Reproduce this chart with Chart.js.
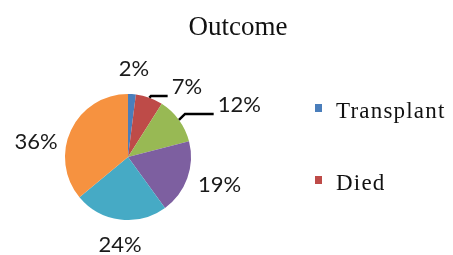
<!DOCTYPE html>
<html>
<head>
<meta charset="utf-8">
<script src="https://cdn.jsdelivr.net/npm/chart.js@4"></script>
<style>
  html, body { margin: 0; padding: 0; background: #fff; }
  #wrap { width: 453px; height: 255px; }
</style>
</head>
<body>
<div id="wrap"><canvas id="outcomeChart" width="453" height="255"></canvas></div>
<script>
const CATEGORIES = ['Transplant', 'Died', 'Recovered', 'Improved', 'Stable', 'Ongoing'];
const PERCENTS = [2, 7, 12, 19, 24, 36];
const TITLE = 'Outcome';

const COLORS = ['#4a7ebb', '#be4b48', '#98b954', '#7d5fa0', '#46aac5', '#f69240'];
const LEGEND_SHOWN = 2;

// label placement per slice: angle shift (deg) from the slice middle, distance in radii
const labelPlace = [
  { shift: 0.3, k: 1.40 },
  { shift: 20.3, k: 1.45, leader: true },
  { shift: 10.9, k: 1.95, leader: true },
  { shift: -2.9, k: 1.52 },
  { shift: -2.0, k: 1.40 },
  { shift: -15.9, k: 1.48 }
];

const decorPlugin = {
  id: 'decor',
  afterDatasetsDraw(chart) {
    const ctx = chart.ctx;
    const meta = chart.getDatasetMeta(0);
    ctx.save();

    // title
    ctx.fillStyle = '#111';
    ctx.font = '27px "Liberation Serif", "Times New Roman", serif';
    ctx.textAlign = 'center';
    ctx.textBaseline = 'alphabetic';
    ctx.fillText(TITLE, 238, 35);

    // slice labels
    ctx.font = '22px Lato, "Liberation Sans", sans-serif';
    ctx.textBaseline = 'middle';
    meta.data.forEach((arc, i) => {
      const p = labelPlace[i];
      const mid = (arc.startAngle + arc.endAngle) / 2;
      const a = mid + p.shift * Math.PI / 180;
      const r = arc.outerRadius;
      const lx = arc.x + Math.cos(a) * r * p.k;
      const ly = arc.y + Math.sin(a) * r * p.k;
      const text = chart.data.datasets[0].data[i] + '%';
      ctx.fillStyle = '#1a1a1a';
      ctx.textAlign = 'center';
      ctx.fillText(text, lx, ly);

      if (p.leader) {
        const w = ctx.measureText(text).width;
        const ax = arc.x + Math.cos(mid) * r;
        const ay = arc.y + Math.sin(mid) * r;
        const lineY = ly + 9;
        const ex = ax + (ay - lineY);
        ctx.strokeStyle = '#000';
        ctx.lineWidth = 2.5;
        ctx.beginPath();
        ctx.moveTo(ax, ay);
        ctx.lineTo(ex, lineY);
        ctx.lineTo(lx - w / 2 - 4, lineY);
        ctx.stroke();
      }
    });

    // legend (only the first items fit)
    ctx.font = '23px "Liberation Serif", "Times New Roman", serif';
    ctx.textAlign = 'left';
    ctx.textBaseline = 'alphabetic';
    if ('letterSpacing' in ctx) ctx.letterSpacing = '1.2px';
    for (let i = 0; i < LEGEND_SHOWN; i++) {
      const baseY = 118 + i * 72;
      ctx.fillStyle = COLORS[i];
      ctx.fillRect(315, baseY - 14, 7, 8);
      ctx.fillStyle = '#111';
      ctx.fillText(chart.data.labels[i], 336, baseY);
    }
    ctx.restore();
  }
};

new Chart(document.getElementById('outcomeChart'), {
  type: 'pie',
  data: {
    labels: CATEGORIES,
    datasets: [{
      data: PERCENTS,
      backgroundColor: COLORS,
      borderWidth: 0
    }]
  },
  options: {
    responsive: false,
    animation: false,
    layout: {
      padding: { left: 65, top: 94, right: 262, bottom: 35 }
    },
    plugins: {
      legend: { display: false },
      title: { display: false },
      tooltip: { enabled: false }
    }
  },
  plugins: [decorPlugin]
});
</script>
</body>
</html>
